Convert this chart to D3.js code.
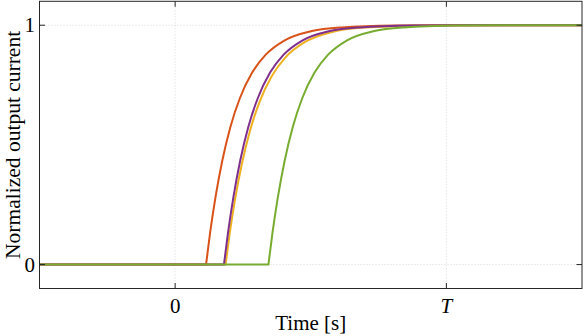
<!DOCTYPE html>
<html><head><meta charset="utf-8">
<script src="https://cdn.jsdelivr.net/npm/d3@7"></script>
<style>body{margin:0;background:#fff}svg{display:block}</style>
</head><body><svg id="c" width="584" height="336"></svg>
<script>
// Time in units of T; each series is flat (0) until its start, then rises
const tOrange = [0.114,0.129,0.149,0.174,0.204,0.239,0.284,0.334,0.404,0.504,0.614,0.814,1.0,1.5];
const vOrange = [0,0.133,0.283,0.435,0.576,0.696,0.802,0.877,0.937,0.976,0.991,0.9987,1,1];
const tPurple = [0.18,0.195,0.215,0.24,0.27,0.305,0.35,0.40,0.47,0.57,0.68,0.88,1.05,1.5];
const vPurple = [0,0.133,0.283,0.435,0.576,0.696,0.802,0.877,0.937,0.976,0.991,0.9987,1,1];
const tYellow = [0.186,0.201,0.221,0.246,0.276,0.311,0.356,0.406,0.476,0.576,0.686,0.886,1.05,1.5];
const vYellow = [0,0.128,0.273,0.42,0.559,0.679,0.787,0.865,0.928,0.971,0.989,0.998,1,1];
const tGreen = [0.344,0.359,0.379,0.404,0.434,0.469,0.514,0.564,0.634,0.734,0.844,1.044,1.2,1.5];
const vGreen = [0,0.133,0.283,0.435,0.576,0.696,0.802,0.877,0.937,0.976,0.991,0.9987,1,1];
const seriesColors = ["#D95319","#EDB120","#7E2F8E","#77AC30"];
const xTicks = [0,1], xTickLabels = ["0","T"];
const yTicks = [0,1], yTickLabels = ["0","1"];

const FONT = "'Liberation Serif','Times New Roman',Times,serif";
const series = [[tOrange,vOrange],[tYellow,vYellow],[tPurple,vPurple],[tGreen,vGreen]];
const svg = d3.select("#c");
const L=39.5,R=582,T=1.3,B=288.5;
const x = d3.scaleLinear().domain([-0.5,1.5]).range([L,R]);
const y = d3.scaleLinear().domain([-0.1,1.1]).range([B,T]);
// grid
const g = svg.append("g");
xTicks.forEach(v=>g.append("line").attr("x1",x(v)).attr("x2",x(v)).attr("y1",T).attr("y2",B).attr("stroke","#d9d9d9").attr("stroke-width",1).attr("stroke-dasharray","1,2"));
yTicks.forEach(v=>g.append("line").attr("x1",L).attr("x2",R).attr("y1",y(v)).attr("y2",y(v)).attr("stroke","#d9d9d9").attr("stroke-width",1).attr("stroke-dasharray","1,2"));
// lines
const rise = d3.line().x(d=>x(d[0])).y(d=>y(d[1])).curve(d3.curveMonotoneX);
series.forEach((s,i)=>{
  const pts = s[0].map((t,j)=>[t,s[1][j]]);
  const flat = `M${x(-0.5)},${y(0)}L${x(pts[0][0])},${y(0)}`;
  svg.append("path").attr("d",flat+rise(pts).replace(/^M/,"L")).attr("fill","none").attr("stroke",seriesColors[i]).attr("stroke-width",2).attr("stroke-linejoin","round");
});
// box
svg.append("rect").attr("x",L).attr("y",T).attr("width",R-L).attr("height",B-T).attr("fill","none").attr("stroke","#262626").attr("stroke-width",1);
// ticks
const ax = svg.append("g").attr("stroke","#262626").attr("stroke-width",1);
xTicks.forEach(v=>{ax.append("line").attr("x1",x(v)).attr("x2",x(v)).attr("y1",B).attr("y2",B-5.5);
  ax.append("line").attr("x1",x(v)).attr("x2",x(v)).attr("y1",T).attr("y2",T+5.5);});
yTicks.forEach(v=>{ax.append("line").attr("x1",L).attr("x2",L+5.5).attr("y1",y(v)).attr("y2",y(v));
  ax.append("line").attr("x1",R).attr("x2",R-5.5).attr("y1",y(v)).attr("y2",y(v));});
// tick labels
xTicks.forEach((v,i)=>svg.append("text").attr("x",x(v)).attr("y",313).attr("text-anchor","middle").attr("font-size",21).attr("font-family",FONT)
  .attr("font-style",xTickLabels[i]==="T"?"italic":"normal").text(xTickLabels[i]));
yTicks.forEach((v,i)=>svg.append("text").attr("x",35).attr("y",y(v)+7).attr("text-anchor","end").attr("font-size",21).attr("font-family",FONT).text(yTickLabels[i]));
svg.append("text").attr("x",(L+R)/2).attr("y",330).attr("text-anchor","middle").attr("font-size",21).attr("font-family",FONT).text("Time [s]");
svg.append("text").attr("transform",`translate(19.5,${(T+B)/2}) rotate(-90)`).attr("text-anchor","middle").attr("font-size",21.5).attr("font-family",FONT).text("Normalized output current");
</script></body></html>
